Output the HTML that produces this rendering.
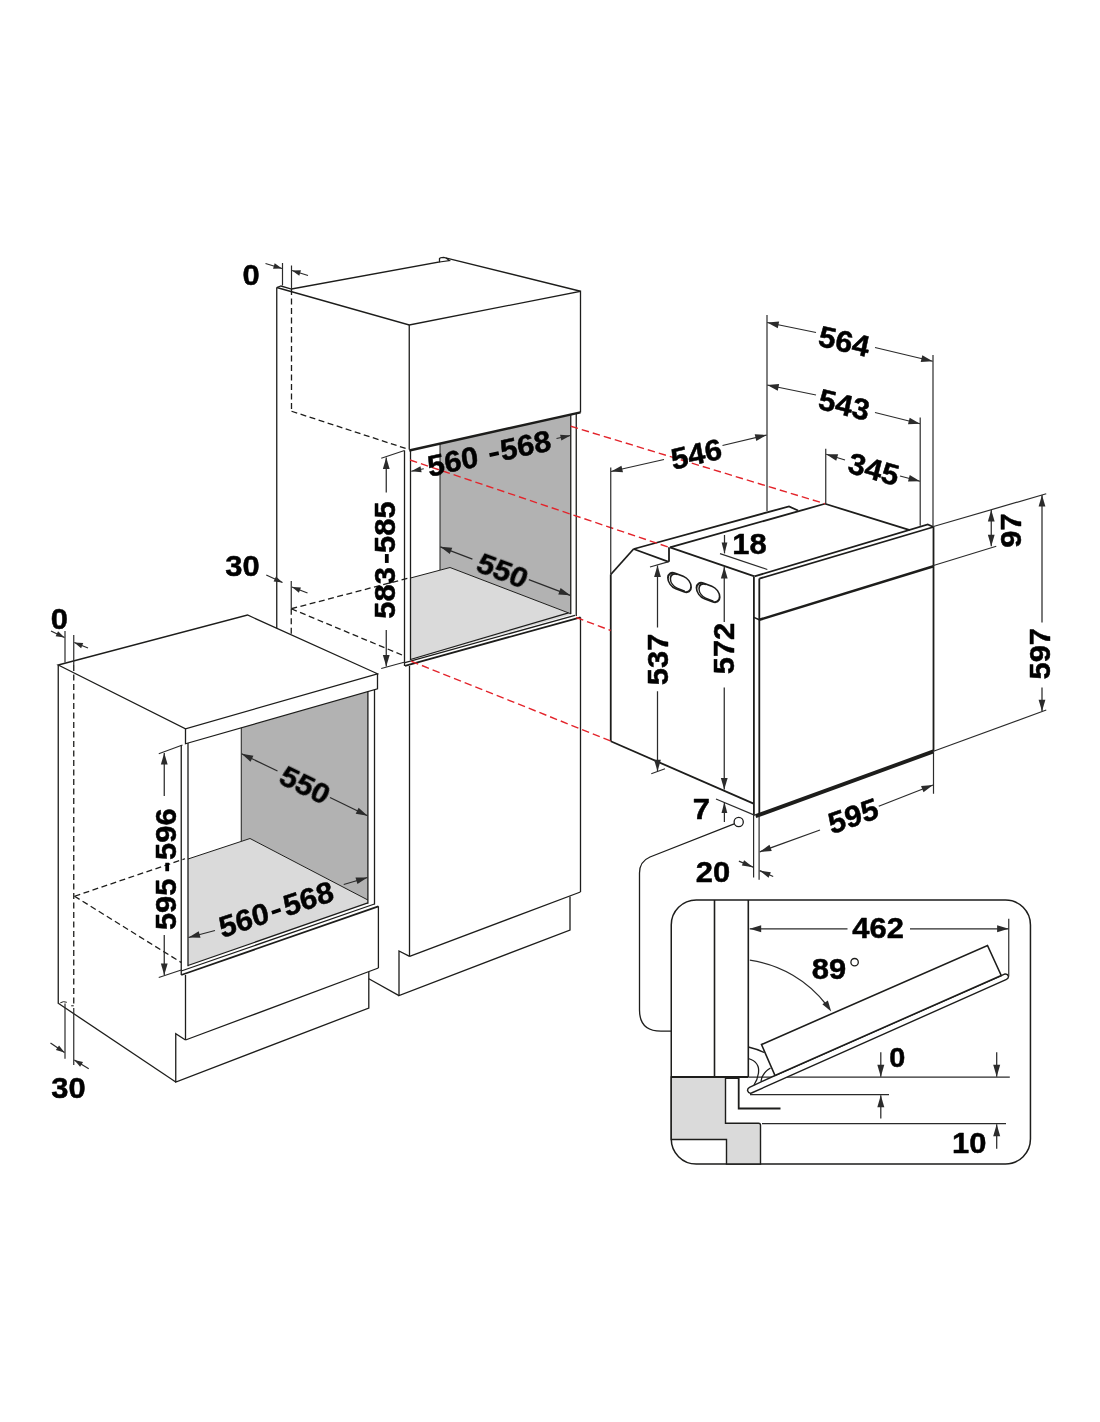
<!DOCTYPE html>
<html><head><meta charset="utf-8"><title>Oven installation dimensions</title>
<style>
html,body{margin:0;padding:0;background:#fff;}
body{width:1100px;height:1422px;overflow:hidden;font-family:"Liberation Sans",sans-serif;}
svg{display:block;position:absolute;left:0;top:0;}
</style></head><body>
<svg width="1100" height="1422" viewBox="0 0 1100 1422" stroke-linecap="butt" stroke-linejoin="miter">
<rect width="1100" height="1422" fill="#ffffff"/>
<polygon points="440,443 570.75,415 570.75,613.75 450,567.5 440,570" fill="#b2b2b2" stroke="none" stroke-width="0"/>
<polygon points="410.5,578 450,567.5 570.75,613.75 570.75,615 410.5,660" fill="#dadada" stroke="none" stroke-width="0"/>
<line x1="440" y1="443" x2="440" y2="570" stroke="#1d1d1b" stroke-width="1.0" />
<line x1="410.5" y1="578" x2="450" y2="567.5" stroke="#1d1d1b" stroke-width="1.0" />
<line x1="450" y1="567.5" x2="570.75" y2="613.75" stroke="#1d1d1b" stroke-width="1.0" />
<path d="M276.75,287.5 L409.25,325 L580.5,291.25 L580.5,412.5" stroke="#1d1d1b" stroke-width="1.3" fill="none" />
<path d="M276.75,287.5 L281,286 L291.5,289 L439.5,262 L439.5,258.6 Q440,257.3 443.6,257.3 L580.5,291.25" stroke="#1d1d1b" stroke-width="1.3" fill="none" />
<path d="M439.5,262 L449.5,260.6 L446,258" stroke="#1d1d1b" stroke-width="1.2" fill="none" />
<line x1="409.25" y1="325" x2="409.25" y2="449.5" stroke="#1d1d1b" stroke-width="1.3" />
<line x1="409.25" y1="450.5" x2="580.5" y2="412.4" stroke="#1d1d1b" stroke-width="2.4" />
<line x1="276.75" y1="287.5" x2="276.75" y2="629" stroke="#1d1d1b" stroke-width="1.3" />
<line x1="404.5" y1="450.5" x2="404.5" y2="666" stroke="#1d1d1b" stroke-width="1.3" />
<line x1="410.5" y1="449.5" x2="410.5" y2="660" stroke="#1d1d1b" stroke-width="1.3" />
<line x1="570.75" y1="414.8" x2="570.75" y2="614" stroke="#1d1d1b" stroke-width="1.3" />
<line x1="576.25" y1="413.5" x2="576.25" y2="616" stroke="#1d1d1b" stroke-width="1.3" />
<line x1="410.5" y1="659.5" x2="568.5" y2="612.8" stroke="#1d1d1b" stroke-width="1.3" />
<line x1="405" y1="662.7" x2="575" y2="615.3" stroke="#1d1d1b" stroke-width="1.3" />
<line x1="405" y1="665.8" x2="580.5" y2="617.3" stroke="#1d1d1b" stroke-width="1.8" />
<line x1="409.5" y1="666" x2="409.5" y2="956.4" stroke="#1d1d1b" stroke-width="1.3" />
<line x1="580.5" y1="617.3" x2="580.5" y2="892" stroke="#1d1d1b" stroke-width="1.3" />
<line x1="409.6" y1="956.4" x2="580.4" y2="892" stroke="#1d1d1b" stroke-width="1.3" />
<path d="M409.6,956.4 L399,951 L399,995.6 L570,930 L570,896.5" stroke="#1d1d1b" stroke-width="1.3" fill="none" />
<line x1="399" y1="995.6" x2="368.8" y2="978.8" stroke="#1d1d1b" stroke-width="1.3" />
<line x1="291.5" y1="289" x2="291.5" y2="411.25" stroke="#1d1d1b" stroke-width="1.3" stroke-dasharray="6 3.5"/>
<line x1="291.5" y1="411.25" x2="409" y2="449.5" stroke="#1d1d1b" stroke-width="1.3" stroke-dasharray="6 3.5"/>
<line x1="291.25" y1="608.75" x2="291.25" y2="634" stroke="#1d1d1b" stroke-width="1.3" stroke-dasharray="6 3.5"/>
<line x1="291.25" y1="608.75" x2="408.75" y2="578" stroke="#1d1d1b" stroke-width="1.3" stroke-dasharray="6 3.5"/>
<line x1="291.25" y1="608.75" x2="405" y2="656.25" stroke="#1d1d1b" stroke-width="1.3" stroke-dasharray="6 3.5"/>
<polygon points="58.25,665 247.5,615 377.5,673.75 377.5,688.75 185.5,743.75 185.5,728.75" fill="#fff" stroke="none" stroke-width="0"/>
<polygon points="241.25,727.8 367.9,691.5 367.9,900 250,838.5 241.25,841" fill="#b2b2b2" stroke="none" stroke-width="0"/>
<polygon points="188,859 250,838.5 367.9,900 367.9,902.9 188,965.5" fill="#dadada" stroke="none" stroke-width="0"/>
<line x1="241.25" y1="727.8" x2="241.25" y2="841" stroke="#1d1d1b" stroke-width="1.0" />
<line x1="188" y1="859" x2="250" y2="838.5" stroke="#1d1d1b" stroke-width="1.0" />
<line x1="250" y1="838.5" x2="367.9" y2="900" stroke="#1d1d1b" stroke-width="1.0" />
<path d="M58.25,665 L247.5,615 L377.5,673.75 L185.5,728.75 Z" stroke="#1d1d1b" stroke-width="1.3" fill="none" />
<path d="M185.5,728.75 L185.5,743.75 L377.5,688.75 L377.5,673.75" stroke="#1d1d1b" stroke-width="1.3" fill="none" />
<line x1="58.25" y1="665" x2="58.25" y2="1003.8" stroke="#1d1d1b" stroke-width="1.3" />
<line x1="181.25" y1="745" x2="181.25" y2="975" stroke="#1d1d1b" stroke-width="1.3" />
<line x1="188" y1="743" x2="188" y2="966.25" stroke="#1d1d1b" stroke-width="1.3" />
<line x1="367.9" y1="691.5" x2="367.9" y2="903.7" stroke="#1d1d1b" stroke-width="1.3" />
<line x1="374.5" y1="689.6" x2="374.5" y2="904.5" stroke="#1d1d1b" stroke-width="1.3" />
<line x1="188" y1="965.5" x2="367.9" y2="902.9" stroke="#1d1d1b" stroke-width="1.3" />
<line x1="181.25" y1="971" x2="374.5" y2="904" stroke="#1d1d1b" stroke-width="1.3" />
<line x1="181.25" y1="975" x2="378.4" y2="906.3" stroke="#1d1d1b" stroke-width="1.8" />
<line x1="185.5" y1="975" x2="185.5" y2="1040" stroke="#1d1d1b" stroke-width="1.3" />
<line x1="378.4" y1="906.3" x2="378.4" y2="968" stroke="#1d1d1b" stroke-width="1.3" />
<line x1="185.5" y1="1040" x2="378.4" y2="968" stroke="#1d1d1b" stroke-width="1.3" />
<path d="M185.5,1040 L175.75,1033.75 L175.75,1082 L368.8,1008 L368.8,972" stroke="#1d1d1b" stroke-width="1.3" fill="none" />
<path d="M58.25,1003.3 L175.75,1082" stroke="#1d1d1b" stroke-width="1.3" fill="none" />
<path d="M60.3,1002.8 Q63.5,1000.8 66.8,1002.3" stroke="#1d1d1b" stroke-width="1.0" fill="none" />
<path d="M71.2,1005.8 L73.75,1005.8" stroke="#1d1d1b" stroke-width="1.0" fill="none" />
<line x1="73.75" y1="665" x2="73.75" y2="1006" stroke="#1d1d1b" stroke-width="1.3" stroke-dasharray="6 3.5"/>
<line x1="74.5" y1="896.25" x2="185" y2="858.75" stroke="#1d1d1b" stroke-width="1.3" stroke-dasharray="6 3.5"/>
<line x1="74.5" y1="896.25" x2="181.25" y2="962.5" stroke="#1d1d1b" stroke-width="1.3" stroke-dasharray="6 3.5"/>
<line x1="610.75" y1="574.5" x2="610.75" y2="741.25" stroke="#1d1d1b" stroke-width="1.8" />
<line x1="610.75" y1="574.5" x2="633.6" y2="549" stroke="#1d1d1b" stroke-width="1.8" />
<path d="M633.6,549 L789,506.4 L798,510.5" stroke="#1d1d1b" stroke-width="1.8" fill="none" />
<line x1="670" y1="547.3" x2="825" y2="503.75" stroke="#1d1d1b" stroke-width="1.8" />
<line x1="633.6" y1="549" x2="668.8" y2="561.8" stroke="#1d1d1b" stroke-width="1.8" />
<line x1="669" y1="547.3" x2="669" y2="561.8" stroke="#1d1d1b" stroke-width="1.8" />
<line x1="670" y1="547.3" x2="754.5" y2="576.4" stroke="#1d1d1b" stroke-width="1.8" />
<line x1="825" y1="503.75" x2="909.8" y2="530.2" stroke="#1d1d1b" stroke-width="1.8" />
<line x1="610.75" y1="741.25" x2="753.6" y2="803.6" stroke="#1d1d1b" stroke-width="1.8" />
<line x1="753.9" y1="577" x2="753.9" y2="815" stroke="#1d1d1b" stroke-width="1.8" />
<line x1="759.3" y1="578.5" x2="759.3" y2="815" stroke="#1d1d1b" stroke-width="1.8" />
<path d="M754.5,576.4 L927.8,524.5 L933.4,527" stroke="#1d1d1b" stroke-width="1.8" fill="none" />
<line x1="759.3" y1="578.7" x2="933.4" y2="527" stroke="#1d1d1b" stroke-width="1.8" />
<line x1="933.5" y1="526.5" x2="933.5" y2="751.25" stroke="#1d1d1b" stroke-width="1.8" />
<line x1="759.3" y1="619.8" x2="933.5" y2="566.2" stroke="#1d1d1b" stroke-width="2.5" />
<line x1="753.9" y1="617.4" x2="759.3" y2="619.8" stroke="#1d1d1b" stroke-width="1.5" />
<line x1="755.6" y1="816.2" x2="933.5" y2="751.4" stroke="#1d1d1b" stroke-width="3.9" />
<g transform="translate(679.5 582.5) skewY(21)"><rect x="-11.6" y="-7.6" width="23.2" height="15.2" rx="7.6" fill="none" stroke="#1d1d1b" stroke-width="1.8"/><path d="M-2.2,-7.2 A6.9,6.9 0 0 0 -2.2,6.6 L5.5,6.6" fill="none" stroke="#1d1d1b" stroke-width="1.5"/></g>
<g transform="translate(708.1 592.5) skewY(21)"><rect x="-11.6" y="-7.6" width="23.2" height="15.2" rx="7.6" fill="none" stroke="#1d1d1b" stroke-width="1.8"/><path d="M-2.2,-7.2 A6.9,6.9 0 0 0 -2.2,6.6 L5.5,6.6" fill="none" stroke="#1d1d1b" stroke-width="1.5"/></g>
<line x1="570.75" y1="426.25" x2="825" y2="503.75" stroke="#e3242b" stroke-width="1.4" stroke-dasharray="7.5 4"/>
<line x1="410" y1="460" x2="669" y2="547.3" stroke="#e3242b" stroke-width="1.4" stroke-dasharray="7.5 4"/>
<line x1="576.25" y1="617.5" x2="610.75" y2="630.5" stroke="#e3242b" stroke-width="1.4" stroke-dasharray="7.5 4"/>
<line x1="411.25" y1="661.25" x2="610.75" y2="741" stroke="#e3242b" stroke-width="1.4" stroke-dasharray="7.5 4"/>
<line x1="282.5" y1="263" x2="282.5" y2="285.5" stroke="#2b2b2b" stroke-width="1.2" />
<line x1="291.5" y1="265.5" x2="291.5" y2="289" stroke="#2b2b2b" stroke-width="1.2" />
<line x1="291.25" y1="581" x2="291.25" y2="608.75" stroke="#2b2b2b" stroke-width="1.2" />
<line x1="381.25" y1="458.25" x2="404.5" y2="450.5" stroke="#2b2b2b" stroke-width="1.2" />
<line x1="381.25" y1="668.5" x2="405" y2="662" stroke="#2b2b2b" stroke-width="1.2" />
<line x1="65" y1="631" x2="65" y2="662.5" stroke="#2b2b2b" stroke-width="1.2" />
<line x1="73.75" y1="635" x2="73.75" y2="665" stroke="#2b2b2b" stroke-width="1.2" />
<line x1="65" y1="1003.5" x2="65" y2="1058.75" stroke="#2b2b2b" stroke-width="1.2" />
<line x1="73.75" y1="1008" x2="73.75" y2="1065" stroke="#2b2b2b" stroke-width="1.2" />
<line x1="158.75" y1="753.75" x2="182.5" y2="745" stroke="#2b2b2b" stroke-width="1.2" />
<line x1="158.75" y1="977.5" x2="181.25" y2="970" stroke="#2b2b2b" stroke-width="1.2" />
<line x1="767" y1="315" x2="767" y2="511" stroke="#2b2b2b" stroke-width="1.2" />
<line x1="933" y1="355" x2="933" y2="526" stroke="#2b2b2b" stroke-width="1.2" />
<line x1="920.2" y1="417.5" x2="920.2" y2="525.8" stroke="#2b2b2b" stroke-width="1.2" />
<line x1="825.75" y1="448.75" x2="825.75" y2="503.75" stroke="#2b2b2b" stroke-width="1.2" />
<line x1="610.75" y1="467.5" x2="610.75" y2="574.5" stroke="#2b2b2b" stroke-width="1.2" />
<line x1="650" y1="567" x2="668" y2="561.8" stroke="#2b2b2b" stroke-width="1.2" />
<line x1="651.25" y1="773.75" x2="665" y2="768.75" stroke="#2b2b2b" stroke-width="1.2" />
<line x1="720" y1="553.6" x2="767.3" y2="569.5" stroke="#2b2b2b" stroke-width="1.2" />
<line x1="716" y1="799" x2="755" y2="815.4" stroke="#2b2b2b" stroke-width="1.2" />
<line x1="933.5" y1="526.5" x2="1046.25" y2="493.75" stroke="#2b2b2b" stroke-width="1.2" />
<line x1="933.5" y1="565.5" x2="996.25" y2="546.25" stroke="#2b2b2b" stroke-width="1.2" />
<line x1="933.5" y1="751.25" x2="1046.25" y2="710" stroke="#2b2b2b" stroke-width="1.2" />
<line x1="933.5" y1="751.25" x2="933.5" y2="793.75" stroke="#2b2b2b" stroke-width="1.2" />
<line x1="753.6" y1="815" x2="753.6" y2="877.6" stroke="#2b2b2b" stroke-width="1.2" />
<line x1="759.1" y1="815" x2="759.1" y2="879.8" stroke="#2b2b2b" stroke-width="1.2" />
<line x1="265.5" y1="263.5" x2="282" y2="268.5" stroke="#2b2b2b" stroke-width="1.25" />
<polygon points="282.00,268.50 273.05,268.71 274.68,263.36" fill="#2b2b2b"/>
<line x1="308" y1="275.5" x2="292" y2="270.5" stroke="#2b2b2b" stroke-width="1.25" />
<polygon points="292.00,270.50 300.95,270.36 299.28,275.71" fill="#2b2b2b"/>
<line x1="266.25" y1="575" x2="282.5" y2="582.5" stroke="#2b2b2b" stroke-width="1.25" />
<polygon points="282.50,582.50 273.61,581.48 275.96,576.40" fill="#2b2b2b"/>
<line x1="307.5" y1="593" x2="292" y2="587" stroke="#2b2b2b" stroke-width="1.25" />
<polygon points="292.00,587.00 300.94,587.46 298.92,592.68" fill="#2b2b2b"/>
<line x1="386.25" y1="492.5" x2="386.25" y2="457.5" stroke="#2b2b2b" stroke-width="1.25" />
<polygon points="386.25,457.50 389.65,469.00 382.85,469.00" fill="#2b2b2b"/>
<line x1="386.25" y1="630" x2="386.25" y2="666.5" stroke="#2b2b2b" stroke-width="1.25" />
<polygon points="386.25,666.50 382.85,655.00 389.65,655.00" fill="#2b2b2b"/>
<line x1="423.75" y1="468.75" x2="411.25" y2="471.25" stroke="#2b2b2b" stroke-width="1.25" />
<polygon points="411.25,471.25 420.47,466.35 421.64,472.23" fill="#2b2b2b"/>
<line x1="556.5" y1="438.5" x2="570.5" y2="435.5" stroke="#2b2b2b" stroke-width="1.25" />
<polygon points="570.50,435.50 561.35,440.53 560.09,434.66" fill="#2b2b2b"/>
<line x1="472.4" y1="559.1" x2="440.3" y2="546.8" stroke="#2b2b2b" stroke-width="1.25" />
<polygon points="440.30,546.80 452.26,547.74 449.82,554.09" fill="#2b2b2b"/>
<line x1="528.8" y1="579.6" x2="570.2" y2="595.3" stroke="#2b2b2b" stroke-width="1.25" />
<polygon points="570.20,595.30 558.24,594.40 560.65,588.04" fill="#2b2b2b"/>
<line x1="664" y1="459.5" x2="611" y2="471.5" stroke="#2b2b2b" stroke-width="1.25" />
<polygon points="611.00,471.50 621.47,465.64 622.97,472.28" fill="#2b2b2b"/>
<line x1="722.5" y1="445.5" x2="766.7" y2="435" stroke="#2b2b2b" stroke-width="1.25" />
<polygon points="766.70,435.00 756.30,440.97 754.73,434.35" fill="#2b2b2b"/>
<line x1="816" y1="332.5" x2="767.2" y2="322.5" stroke="#2b2b2b" stroke-width="1.25" />
<polygon points="767.20,322.50 779.15,321.48 777.78,328.14" fill="#2b2b2b"/>
<line x1="875" y1="347.5" x2="932.7" y2="361.25" stroke="#2b2b2b" stroke-width="1.25" />
<polygon points="932.70,361.25 920.73,361.89 922.30,355.28" fill="#2b2b2b"/>
<line x1="816" y1="395" x2="767.2" y2="385" stroke="#2b2b2b" stroke-width="1.25" />
<polygon points="767.20,385.00 779.15,383.98 777.78,390.64" fill="#2b2b2b"/>
<line x1="875" y1="412.5" x2="920" y2="423.75" stroke="#2b2b2b" stroke-width="1.25" />
<polygon points="920.00,423.75 908.02,424.26 909.67,417.66" fill="#2b2b2b"/>
<line x1="845" y1="460" x2="826.2" y2="454.25" stroke="#2b2b2b" stroke-width="1.25" />
<polygon points="826.20,454.25 838.19,454.36 836.20,460.86" fill="#2b2b2b"/>
<line x1="900" y1="476" x2="920" y2="481.25" stroke="#2b2b2b" stroke-width="1.25" />
<polygon points="920.00,481.25 908.01,481.62 909.74,475.04" fill="#2b2b2b"/>
<line x1="724.5" y1="535" x2="724.5" y2="553.4" stroke="#2b2b2b" stroke-width="1.25" />
<polygon points="724.50,553.40 721.60,542.40 727.40,542.40" fill="#2b2b2b"/>
<line x1="657.5" y1="627.5" x2="657.5" y2="565.5" stroke="#2b2b2b" stroke-width="1.25" />
<polygon points="657.50,565.50 660.90,577.00 654.10,577.00" fill="#2b2b2b"/>
<line x1="657.5" y1="691.25" x2="657.5" y2="771.25" stroke="#2b2b2b" stroke-width="1.25" />
<polygon points="657.50,771.25 654.10,759.75 660.90,759.75" fill="#2b2b2b"/>
<line x1="724.25" y1="622" x2="724.25" y2="567" stroke="#2b2b2b" stroke-width="1.25" />
<polygon points="724.25,567.00 727.65,578.50 720.85,578.50" fill="#2b2b2b"/>
<line x1="724.25" y1="687.5" x2="724.25" y2="789.5" stroke="#2b2b2b" stroke-width="1.25" />
<polygon points="724.25,789.50 720.85,778.00 727.65,778.00" fill="#2b2b2b"/>
<line x1="724.4" y1="822" x2="724.4" y2="802" stroke="#2b2b2b" stroke-width="1.25" />
<polygon points="724.40,802.00 727.30,813.00 721.50,813.00" fill="#2b2b2b"/>
<line x1="991.25" y1="510" x2="991.25" y2="546.25" stroke="#2b2b2b" stroke-width="1.25" />
<polygon points="991.25,546.25 987.85,534.75 994.65,534.75" fill="#2b2b2b"/>
<polygon points="991.25,510.00 994.65,521.50 987.85,521.50" fill="#2b2b2b"/>
<line x1="1042" y1="622.5" x2="1042" y2="495" stroke="#2b2b2b" stroke-width="1.25" />
<polygon points="1042.00,495.00 1045.40,506.50 1038.60,506.50" fill="#2b2b2b"/>
<line x1="1042" y1="687.5" x2="1042" y2="711.25" stroke="#2b2b2b" stroke-width="1.25" />
<polygon points="1042.00,711.25 1038.60,699.75 1045.40,699.75" fill="#2b2b2b"/>
<line x1="820" y1="830" x2="759.8" y2="851.8" stroke="#2b2b2b" stroke-width="1.25" />
<polygon points="759.80,851.80 769.46,844.69 771.77,851.08" fill="#2b2b2b"/>
<line x1="878.75" y1="806.25" x2="933" y2="785" stroke="#2b2b2b" stroke-width="1.25" />
<polygon points="933.00,785.00 923.53,792.36 921.05,786.03" fill="#2b2b2b"/>
<line x1="738.9" y1="861.2" x2="753.1" y2="867.2" stroke="#2b2b2b" stroke-width="1.25" />
<polygon points="753.10,867.20 741.84,865.59 744.10,860.25" fill="#2b2b2b"/>
<line x1="773.2" y1="876.5" x2="759.6" y2="870.6" stroke="#2b2b2b" stroke-width="1.25" />
<polygon points="759.60,870.60 770.85,872.32 768.54,877.64" fill="#2b2b2b"/>
<line x1="51" y1="631" x2="64.5" y2="637.5" stroke="#2b2b2b" stroke-width="1.25" />
<polygon points="64.50,637.50 55.63,636.34 58.06,631.29" fill="#2b2b2b"/>
<line x1="88" y1="648" x2="74.3" y2="642.5" stroke="#2b2b2b" stroke-width="1.25" />
<polygon points="74.30,642.50 83.23,643.07 81.14,648.27" fill="#2b2b2b"/>
<line x1="50.5" y1="1043" x2="64.5" y2="1052.5" stroke="#2b2b2b" stroke-width="1.25" />
<polygon points="64.50,1052.50 55.89,1050.04 59.04,1045.41" fill="#2b2b2b"/>
<line x1="88.75" y1="1068.75" x2="74.3" y2="1060" stroke="#2b2b2b" stroke-width="1.25" />
<polygon points="74.30,1060.00 83.02,1062.01 80.12,1066.80" fill="#2b2b2b"/>
<line x1="164.25" y1="796" x2="164.25" y2="753" stroke="#2b2b2b" stroke-width="1.25" />
<polygon points="164.25,753.00 167.65,764.50 160.85,764.50" fill="#2b2b2b"/>
<line x1="164.25" y1="935" x2="164.25" y2="975" stroke="#2b2b2b" stroke-width="1.25" />
<polygon points="164.25,975.00 160.85,963.50 167.65,963.50" fill="#2b2b2b"/>
<line x1="277.5" y1="771" x2="241.6" y2="753.75" stroke="#2b2b2b" stroke-width="1.25" />
<polygon points="241.60,753.75 253.44,755.67 250.49,761.80" fill="#2b2b2b"/>
<line x1="330" y1="797.5" x2="367.5" y2="815.75" stroke="#2b2b2b" stroke-width="1.25" />
<polygon points="367.50,815.75 355.67,813.77 358.65,807.66" fill="#2b2b2b"/>
<line x1="215" y1="930.5" x2="188.5" y2="937.5" stroke="#2b2b2b" stroke-width="1.25" />
<polygon points="188.50,937.50 198.75,931.28 200.49,937.85" fill="#2b2b2b"/>
<line x1="343.75" y1="884.5" x2="367.5" y2="877.5" stroke="#2b2b2b" stroke-width="1.25" />
<polygon points="367.50,877.50 357.43,884.01 355.51,877.49" fill="#2b2b2b"/>
<circle cx="738.7" cy="822" r="4.6" fill="#fff" stroke="#1d1d1b" stroke-width="1.3"/>
<path d="M734.2,823.8 L650,857 Q639.5,861.5 639.5,873 L639.5,1010 Q639.5,1031.2 661,1031.2 L671.25,1031.2" stroke="#1d1d1b" stroke-width="1.3" fill="none" />
<rect x="671.25" y="900" width="359.2" height="264" rx="25" ry="25" fill="none" stroke="#1d1d1b" stroke-width="1.5"/>
<path d="M671.25,1077 L725.5,1077 L725.5,1123.3 L758.5,1123.3 Q760.5,1123.3 760.5,1125.3 L760.5,1164 L726.5,1164 L726.5,1139.5 L671.25,1139.5 Z" stroke="#1d1d1b" stroke-width="1.4" fill="#dadada" />
<line x1="714.5" y1="900" x2="714.5" y2="1077" stroke="#1d1d1b" stroke-width="1.6" />
<line x1="748.3" y1="900" x2="748.3" y2="1077" stroke="#1d1d1b" stroke-width="1.6" />
<line x1="671.25" y1="1077" x2="748.3" y2="1077" stroke="#1d1d1b" stroke-width="2.0" />
<path d="M725.5,1078 L738.7,1078 L738.7,1108.5 L780.5,1108.5" stroke="#1d1d1b" stroke-width="1.8" fill="none" />
<line x1="748.3" y1="1077.2" x2="1009.8" y2="1077.2" stroke="#2b2b2b" stroke-width="1.2" />
<line x1="750" y1="1094.6" x2="889" y2="1094.6" stroke="#2b2b2b" stroke-width="1.2" />
<line x1="762" y1="1123.6" x2="1006" y2="1123.6" stroke="#2b2b2b" stroke-width="1.2" />
<path d="M775,1075.5 L1004,974.3 Q1007.6,973.4 1008.4,976.2 Q1008.8,978.3 1006,979.6 L751.5,1093 Q748.6,1093.8 747.6,1090.8 Q747.2,1088.6 749.5,1087.3 Z" stroke="#1d1d1b" stroke-width="1.4" fill="#fff" />
<path d="M761.5,1044.5 L987.5,945.5 L1001.25,975.5 L775,1075.5 Z" stroke="#1d1d1b" stroke-width="1.6" fill="#fff" />
<path d="M748.3,1047 Q757,1049 764,1052.5" stroke="#1d1d1b" stroke-width="1.3" fill="none" />
<path d="M748.3,1058.5 Q760,1062 758.5,1073 Q757.5,1080 754,1085" stroke="#1d1d1b" stroke-width="1.3" fill="none" />
<path d="M770.5,1068 Q762,1073 761,1081.5" stroke="#1d1d1b" stroke-width="1.3" fill="none" />
<line x1="847.5" y1="928.75" x2="749.7" y2="928.75" stroke="#2b2b2b" stroke-width="1.25" />
<polygon points="749.70,928.75 761.20,925.35 761.20,932.15" fill="#2b2b2b"/>
<line x1="910" y1="928.75" x2="1008.6" y2="928.75" stroke="#2b2b2b" stroke-width="1.25" />
<polygon points="1008.60,928.75 997.10,932.15 997.10,925.35" fill="#2b2b2b"/>
<line x1="1008.75" y1="918.75" x2="1008.75" y2="976.25" stroke="#2b2b2b" stroke-width="1.2" />
<path d="M749.8,960.2 A117.5,117.5 0 0 1 827,1005.5" stroke="#2b2b2b" stroke-width="1.25" fill="none" />
<polygon points="831.20,1011.50 822.37,1004.16 827.87,1000.51" fill="#2b2b2b"/>
<line x1="880.8" y1="1052.3" x2="880.8" y2="1076.8" stroke="#2b2b2b" stroke-width="1.25" />
<polygon points="880.80,1076.80 877.30,1064.80 884.30,1064.80" fill="#2b2b2b"/>
<line x1="880.8" y1="1118.6" x2="880.8" y2="1095.2" stroke="#2b2b2b" stroke-width="1.25" />
<polygon points="880.80,1095.20 884.30,1107.20 877.30,1107.20" fill="#2b2b2b"/>
<line x1="996.7" y1="1052.3" x2="996.7" y2="1076.8" stroke="#2b2b2b" stroke-width="1.25" />
<polygon points="996.70,1076.80 993.20,1064.80 1000.20,1064.80" fill="#2b2b2b"/>
<line x1="996.7" y1="1148.8" x2="996.7" y2="1124.2" stroke="#2b2b2b" stroke-width="1.25" />
<polygon points="996.70,1124.20 1000.20,1136.20 993.20,1136.20" fill="#2b2b2b"/>
<circle cx="854.6" cy="962.2" r="3.7" fill="none" stroke="#1d1d1b" stroke-width="1.3"/>
<g font-family="'Liberation Sans', sans-serif" font-weight="bold" fill="#000" stroke="#000" stroke-width="0.5" stroke-linejoin="round" opacity="0.999">
<text transform="matrix(1.0300 0.0000 -0.0000 0.9850 251 274.5)" x="0" y="10.74" font-size="30" text-anchor="middle">0</text>
<text transform="matrix(1.0300 0.0000 -0.0000 0.9850 242.5 565.5)" x="0" y="10.74" font-size="30" text-anchor="middle">30</text>
<text transform="matrix(1.0300 0.0000 -0.0000 0.9850 59.25 618.8)" x="0" y="10.74" font-size="30" text-anchor="middle">0</text>
<text transform="matrix(1.0300 0.0000 -0.0000 0.9850 68.4 1087.75)" x="0" y="10.74" font-size="30" text-anchor="middle">30</text>
<text transform="matrix(0.0000 -1.0300 0.9850 0.0000 384.6 592.9)" x="0" y="10.74" font-size="30" text-anchor="middle">583</text>
<text transform="matrix(0.0000 -1.0300 0.9850 0.0000 384.6 527.2)" x="0" y="10.74" font-size="30" text-anchor="middle">585</text>
<line x1="386.80" y1="562.95" x2="386.80" y2="554.05" stroke="#000" stroke-width="3.8"/>
<text transform="matrix(0.0000 -1.0300 0.9850 0.0000 165.0 904.35)" x="0" y="10.74" font-size="30" text-anchor="middle">595</text>
<text transform="matrix(0.0000 -1.0300 0.9850 0.0000 165.0 834.2)" x="0" y="10.74" font-size="30" text-anchor="middle">596</text>
<line x1="167.20" y1="871.25" x2="167.20" y2="862.75" stroke="#000" stroke-width="3.8"/>
<text transform="matrix(1.0060 -0.2212 0.1541 0.9729 452.77 461.05)" x="0" y="10.74" font-size="30" text-anchor="middle">560</text>
<text transform="matrix(1.0060 -0.2212 0.1541 0.9729 525.54 445.05)" x="0" y="10.74" font-size="30" text-anchor="middle">568</text>
<line x1="489.50" y1="455.23" x2="498.78" y2="453.19" stroke="#000" stroke-width="3.8"/>
<text transform="matrix(0.9768 -0.3268 0.2383 0.9557 243.8 919.82)" x="0" y="10.74" font-size="30" text-anchor="middle">560</text>
<text transform="matrix(0.9768 -0.3268 0.2383 0.9557 308.19 898.28)" x="0" y="10.74" font-size="30" text-anchor="middle">568</text>
<line x1="271.88" y1="912.74" x2="280.61" y2="909.82" stroke="#000" stroke-width="3.8"/>
<text transform="matrix(0.9648 0.3607 -0.4006 0.8998 502.6 570.6)" x="0" y="10.74" font-size="30" text-anchor="middle">550</text>
<text transform="matrix(0.9258 0.4515 -0.4624 0.8697 305 785)" x="0" y="10.74" font-size="30" text-anchor="middle">550</text>
<text transform="matrix(1.0032 0.2335 -0.2048 0.9635 844.25 341)" x="0" y="10.74" font-size="30" text-anchor="middle">564</text>
<text transform="matrix(0.9985 0.2527 -0.2048 0.9635 844.25 404.4)" x="0" y="10.74" font-size="30" text-anchor="middle">543</text>
<text transform="matrix(0.9901 0.2839 -0.2383 0.9557 873.75 468.75)" x="0" y="10.74" font-size="30" text-anchor="middle">345</text>
<text transform="matrix(1.0036 -0.2317 0.1710 0.9700 696.25 453.75)" x="0" y="10.74" font-size="30" text-anchor="middle">546</text>
<text transform="matrix(1.0300 0.0000 -0.0000 0.9850 749.5 543.6)" x="0" y="10.74" font-size="30" text-anchor="middle">18</text>
<text transform="matrix(0.0000 -1.0300 0.9850 0.0000 657.5 659.4)" x="0" y="10.74" font-size="30" text-anchor="middle">537</text>
<text transform="matrix(0.0000 -1.0300 0.9850 0.0000 723.9 648.5)" x="0" y="10.74" font-size="30" text-anchor="middle">572</text>
<text transform="matrix(0.0000 -1.0300 0.9850 0.0000 1010.6 530.6)" x="0" y="10.74" font-size="30" text-anchor="middle">97</text>
<text transform="matrix(0.0000 -1.0300 0.9850 0.0000 1039.4 653.75)" x="0" y="10.74" font-size="30" text-anchor="middle">597</text>
<text transform="matrix(0.9709 -0.3438 0.2549 0.9514 853.1 815.6)" x="0" y="10.74" font-size="30" text-anchor="middle">595</text>
<text transform="matrix(1.0300 0.0000 -0.0000 0.9850 701.25 808.6)" x="0" y="10.74" font-size="30" text-anchor="middle">7</text>
<text transform="matrix(1.0300 0.0000 -0.0000 0.9850 713 871.3)" x="0" y="10.74" font-size="30" text-anchor="middle">20</text>
<text transform="matrix(1.0300 0.0000 -0.0000 0.9850 878.1 927.25)" x="0" y="10.74" font-size="30" text-anchor="middle">462</text>
<text transform="matrix(1.0300 0.0000 -0.0000 0.9850 829 968.75)" x="0" y="10.74" font-size="30" text-anchor="middle">89</text>
<text transform="matrix(1.0300 0.0000 -0.0000 0.9850 897.25 1056.8)" x="0" y="10.02" font-size="28" text-anchor="middle">0</text>
<text transform="matrix(1.0300 0.0000 -0.0000 0.9850 969.25 1142.75)" x="0" y="10.74" font-size="30" text-anchor="middle">10</text>
</g>
</svg>
</body></html>
